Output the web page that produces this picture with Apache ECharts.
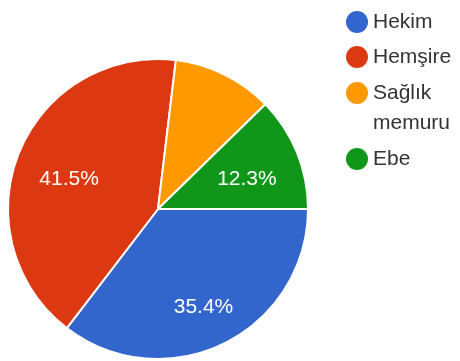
<!DOCTYPE html>
<html>
<head>
<meta charset="utf-8">
<script src="https://cdn.jsdelivr.net/npm/echarts@6/dist/echarts.min.js"></script>
<style>
html,body{margin:0;padding:0;background:#fff;}
#chart{width:460px;height:361px;}
</style>
</head>
<body>
<div id="chart"></div>
<script>
const categories = ['Hekim', 'Hemşire', 'Sağlık memuru', 'Ebe'];
const values = [35.4, 41.5, 10.8, 12.3];
const colors = ['#3366cc', '#dc3912', '#ff9900', '#109618'];
const labelTexts = ['35.4%', '41.5%', '', '12.3%'];

const FONT = "'Liberation Sans', Arial, sans-serif";
const chart = echarts.init(document.getElementById('chart'));

const mainData = categories.map((c, i) => ({ name: c, value: values[i], itemStyle: { color: colors[i] } }));
const labelData = categories.map((c, i) => {
  const item = { name: c, value: values[i], label: { formatter: labelTexts[i] } };
  if (i === 0) item.label.offset = [3, 12];
  return item;
});

chart.setOption({
  animation: false,
  backgroundColor: '#ffffff',
  legend: [
    {
      orient: 'vertical', left: 346, top: 11, padding: 0, itemGap: 13,
      icon: 'circle', itemWidth: 22, itemHeight: 22,
      itemStyle: { borderWidth: 0 },
      textStyle: { fontFamily: FONT, fontSize: 21, color: '#333' },
      data: [categories[0], categories[1]]
    },
    {
      orient: 'vertical', left: 346, top: 48, padding: 0, itemGap: 10,
      icon: 'circle', itemWidth: 22, itemHeight: 22,
      itemStyle: { borderWidth: 0 },
      textStyle: { fontFamily: FONT, fontSize: 21, color: '#333' },
      formatter: function (name) { return name === 'Sağlık memuru' ? ' \nSağlık\nmemuru' : name; },
      data: [
        { name: categories[2], textStyle: { lineHeight: 30 } },
        categories[3]
      ]
    }
  ],
  series: [
    {
      type: 'pie',
      center: [158, 209],
      radius: [0, 150],
      startAngle: 0,
      clockwise: true,
      label: { show: false },
      labelLine: { show: false },
      itemStyle: { borderColor: '#ffffff', borderWidth: 2 },
      emphasis: { disabled: true },
      data: mainData
    },
    {
      type: 'pie',
      center: [158, 209],
      radius: [0, 186],
      startAngle: 0,
      clockwise: true,
      silent: true,
      itemStyle: { color: 'rgba(0,0,0,0)' },
      label: { show: true, position: 'inside', offset: [0, 6], fontFamily: FONT, fontSize: 21, color: '#ffffff' },
      labelLine: { show: false },
      emphasis: { disabled: true },
      data: labelData
    }
  ]
});
</script>
</body>
</html>
